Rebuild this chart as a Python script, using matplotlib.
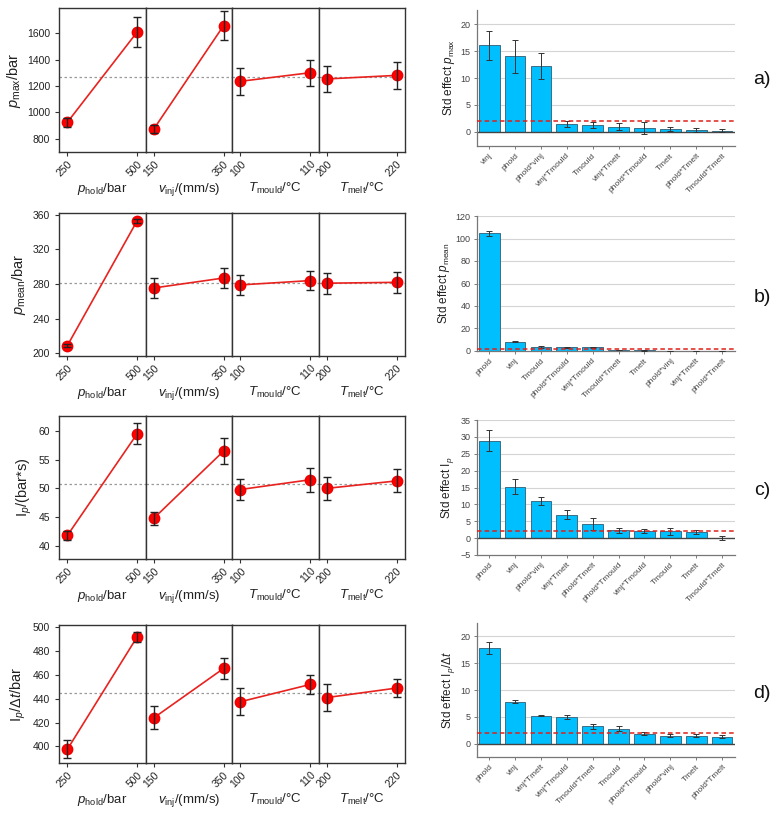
import matplotlib
matplotlib.use("Agg")
import matplotlib.pyplot as plt
import numpy as np

plt.rcParams['font.family'] = ['Liberation Sans', 'DejaVu Sans']
plt.rcParams['mathtext.fontset'] = 'custom'
plt.rcParams['mathtext.rm'] = 'Liberation Sans'
plt.rcParams['mathtext.it'] = 'Liberation Sans:italic'
plt.rcParams['mathtext.bf'] = 'Liberation Sans:bold'

# ---------------- data: main effects (left) ----------------
factor_levels = [[250, 500], [150, 350], [100, 110], [200, 220]]
factor_labels = [r'$p_{\rm hold}$/bar', r'$v_{\rm inj}$/(mm/s)',
                 r'$T_{\rm mould}$/°C', r'$T_{\rm melt}$/°C']

pmax_mean = [[925, 1608], [875, 1657], [1235, 1300], [1253, 1280]]
pmax_err = [[35, 115], [30, 107], [102, 100], [100, 103]]
pmax_grand = 1267

pmean_mean = [[209, 353], [275.5, 287], [279, 284], [281, 282]]
pmean_err = [[2, 2], [11.5, 11.5], [12, 11], [12, 12]]
pmean_grand = 281

ip_mean = [[41.8, 59.5], [44.8, 56.5], [49.8, 51.5], [50.0, 51.3]]
ip_err = [[0.8, 1.8], [1.1, 2.2], [1.9, 2.1], [2.0, 2.0]]
ip_grand = 50.7

ipdt_mean = [[397.5, 492], [424, 465.5], [437.5, 452], [441, 449]]
ipdt_err = [[7.5, 4.5], [9.5, 9], [11.5, 8], [11.5, 7.5]]
ipdt_grand = 445

# ---------------- data: standardized effects (right) ----------------
a_factors = ['vinj', 'phold', 'phold*vinj', 'vinj*Tmould', 'Tmould', 'vinj*Tmelt',
             'phold*Tmould', 'Tmelt', 'phold*Tmelt', 'Tmould*Tmelt']
a_effect = [16.1, 14.0, 12.2, 1.5, 1.3, 1.0, 0.8, 0.6, 0.4, 0.25]
a_err = [2.7, 3.0, 2.4, 0.6, 0.6, 0.6, 1.1, 0.4, 0.35, 0.3]

b_factors = ['phold', 'vinj', 'Tmould', 'phold*Tmould', 'vinj*Tmould', 'Tmould*Tmelt',
             'Tmelt', 'phold*vinj', 'vinj*Tmelt', 'phold*Tmelt']
b_effect = [104.5, 8.2, 3.5, 3.3, 3.3, 0.8, 0.6, 0.3, 0.2, 0.1]
b_err = [2.0, 0.5, 0.5, 0.3, 0.4, 0.2, 0.2, 0.1, 0.1, 0.1]

c_factors = ['phold', 'vinj', 'phold*vinj', 'vinj*Tmelt', 'phold*Tmelt', 'phold*Tmould',
             'vinj*Tmould', 'Tmould', 'Tmelt', 'Tmould*Tmelt']
c_effect = [28.9, 15.2, 11.0, 7.0, 4.1, 2.3, 2.1, 2.0, 1.7, 0.05]
c_err = [3.0, 2.2, 1.3, 1.4, 1.8, 0.7, 0.5, 1.1, 0.6, 0.6]

d_factors = ['phold', 'vinj', 'vinj*Tmelt', 'vinj*Tmould', 'Tmould*Tmelt', 'Tmould',
             'phold*Tmould', 'phold*vinj', 'Tmelt', 'phold*Tmelt']
d_effect = [17.9, 7.8, 5.2, 5.0, 3.2, 2.8, 1.85, 1.5, 1.5, 1.3]
d_err = [1.1, 0.3, 0.1, 0.4, 0.5, 0.4, 0.3, 0.2, 0.3, 0.3]

threshold = 2.0

# ---------------- layout ----------------
W, H = 775, 815
fig = plt.figure(figsize=(W / 100, H / 100), dpi=100)
fig.patch.set_facecolor('white')


def ax_px(x0, y0, x1, y1):
    return fig.add_axes([x0 / W, 1 - y1 / H, (x1 - x0) / W, (y1 - y0) / H])


def main_effects(y0, y1, means, errs, grand, ylim, yticks, ylabel):
    x0, x1 = 59, 405
    w = (x1 - x0) / 4
    axes = []
    for i in range(4):
        ax = ax_px(x0 + i * w, y0, x0 + (i + 1) * w, y1)
        lv = factor_levels[i]
        span = lv[1] - lv[0]
        ax.set_xlim(lv[0] - 0.12 * span, lv[1] + 0.12 * span)
        ax.set_ylim(*ylim)
        ax.axhline(grand, color='#9a9a9a', ls=(0, (2, 2)), lw=0.9, zorder=1)
        ax.plot(lv, means[i], color='#e8221e', lw=1.2, zorder=2)
        ax.plot(lv, means[i], 'o', color='#ff0000', ms=7.5, mec='#ee0000', zorder=3)
        ax.errorbar(lv, means[i], yerr=errs[i], fmt='none', ecolor='#222222',
                    elinewidth=1.0, capsize=3, capthick=1.0, zorder=4)
        ax.set_xticks(lv)
        ax.set_xticklabels([str(v) for v in lv], rotation=45, ha='right',
                           rotation_mode='anchor', fontsize=7.5, color='#222222')
        ax.tick_params(axis='x', length=3, width=0.8, pad=2, color='#333333')
        ax.set_xlabel(factor_labels[i], fontsize=9.5, labelpad=2, color='#222222')
        for s in ax.spines.values():
            s.set_color('#333333')
            s.set_linewidth(1.0)
        if i == 0:
            ax.set_yticks(yticks)
            ax.tick_params(axis='y', labelsize=7.5, length=3, width=0.8,
                           labelcolor='#222222', color='#333333')
            ax.set_ylabel(ylabel, fontsize=10.5, color='#222222', labelpad=3)
        else:
            ax.set_yticks([])
        axes.append(ax)
    return axes


def effects_bar(y0, y1, factors, effect, err, ylim, yticks, ylabel, zero_line=True):
    ax = ax_px(477, y0, 735, y1)
    x = np.arange(len(factors))
    ax.set_ylim(*ylim)
    ax.set_xlim(-0.47, 9.5)
    for t in yticks:
        if t > 0:
            ax.axhline(t, color='#d4d4d4', lw=0.8, zorder=0)
    ax.bar(x, effect, width=0.8, color='#00bfff', edgecolor='#3a6f86',
           linewidth=0.7, zorder=2)
    ax.errorbar(x, effect, yerr=err, fmt='none', ecolor='#333333',
                elinewidth=0.7, capsize=2, capthick=0.7, zorder=3)
    if zero_line:
        ax.axhline(0, color='#444444', lw=1.0, zorder=2.5)
    ax.axhline(threshold, color='#e0201b', ls=(0, (3, 2)), lw=1.1, zorder=4)
    ax.set_xticks(x)
    ax.set_xticklabels(factors, rotation=45, ha='right', rotation_mode='anchor',
                       fontsize=6, color='#444444')
    ax.set_yticks(yticks)
    ax.tick_params(axis='y', labelsize=6.5, length=2.5, width=0.6,
                   labelcolor='#444444', color='#666666', pad=2)
    ax.tick_params(axis='x', length=2.5, width=0.6, color='#666666', pad=2)
    for s in ['top', 'right']:
        ax.spines[s].set_visible(False)
    for s in ['left', 'bottom']:
        ax.spines[s].set_color('#777777')
        ax.spines[s].set_linewidth(0.9)
    ax.set_ylabel(ylabel, fontsize=8.5, color='#222222', labelpad=3)
    return ax


# Row a
main_effects(8, 152, pmax_mean, pmax_err, pmax_grand, (700, 1790),
             [800, 1000, 1200, 1400, 1600], r'$p_{\rm max}$/bar')
effects_bar(10, 146, a_factors, a_effect, a_err, (-2.6, 22.6),
            [0, 5, 10, 15, 20], r'Std effect $p_{\rm max}$')

# Row b
main_effects(213, 356, pmean_mean, pmean_err, pmean_grand, (197, 362),
             [200, 240, 280, 320, 360], r'$p_{\rm mean}$/bar')
effects_bar(216, 351, b_factors, b_effect, b_err, (0, 120),
            [0, 20, 40, 60, 80, 100, 120], r'Std effect $p_{\rm mean}$', zero_line=False)

# Row c
main_effects(416, 559, ip_mean, ip_err, ip_grand, (37.7, 62.6),
             [40, 45, 50, 55, 60], r'I$_{p}$/(bar*s)')
effects_bar(420, 555, c_factors, c_effect, c_err, (-5, 35),
            [-5, 0, 5, 10, 15, 20, 25, 30, 35], r'Std effect I$_{p}$')

# Row d
main_effects(625, 763, ipdt_mean, ipdt_err, ipdt_grand, (386, 502),
             [400, 420, 440, 460, 480, 500], r'I$_{p}$/$\Delta t$/bar')
effects_bar(623, 757, d_factors, d_effect, d_err, (-2.5, 22.5),
            [0, 5, 10, 15, 20], r'Std effect I$_{p}$/$\Delta t$')

# panel letters
for lab, yy in zip(['a)', 'b)', 'c)', 'd)'], [80, 298, 491, 693]):
    fig.text(762 / W, 1 - yy / H, lab, fontsize=14, ha='center', va='center',
             color='#111111')

fig.savefig('out.png', dpi=100, facecolor='white')
